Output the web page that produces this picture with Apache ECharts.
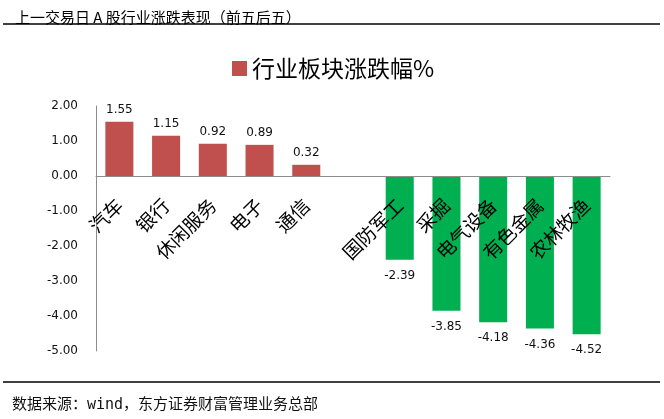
<!DOCTYPE html>
<html><head><meta charset="utf-8">
<script src="https://cdn.jsdelivr.net/npm/echarts@6/dist/echarts.min.js"></script>
<style>html,body{margin:0;padding:0;background:#fff}#c{width:664px;height:419px}</style>
</head><body><div id="c"></div>
<script>
const categories = ['汽车','银行','休闲服务','电子','通信','','国防军工','采掘','电气设备','有色金属','农林牧渔'];
const values = [1.55, 1.15, 0.92, 0.89, 0.32, null, -2.39, -3.85, -4.18, -4.36, -4.52];
const yTicks = {min: -5, max: 2, interval: 1};
const seriesName = '行业板块涨跌幅%';
const titleText = '上一交易日 A 股行业涨跌表现（前五后五）';
const sourceText = '数据来源：wind，东方证券财富管理业务总部';

const RED = '#C0504D', GREEN = '#00B050';
const GRID_TOP = 106, GRID_BOTTOM = 68, H = 419;
const gridH = H - GRID_TOP - GRID_BOTTOM;
// distance from grid bottom to the zero line, derived from the axis range
const zeroOffset = gridH * (0 - yTicks.min) / (yTicks.max - yTicks.min);

const chart = echarts.init(document.getElementById('c'), null, {renderer: 'canvas'});
const data = values.map(v => v === null ? '-' : {
  value: v,
  itemStyle: {color: v >= 0 ? RED : GREEN},
  label: {position: v >= 0 ? 'top' : 'bottom', distance: v >= 0 ? 6 : 10}
});
chart.setOption({
  animation: false,
  title: {text: titleText, left: 10, top: 5, textStyle: {fontSize: 15, fontWeight: 'normal', color: '#000', fontFamily: 'Noto Sans CJK SC'}},
  legend: {
    data: [{name: seriesName, icon: 'rect', itemStyle: {color: RED}}],
    left: 227, top: 52, itemWidth: 15, itemHeight: 15, itemGap: 7,
    textStyle: {fontSize: 23, color: '#000', fontFamily: 'Noto Sans CJK SC'}
  },
  grid: {left: 96, right: 54, top: GRID_TOP, bottom: GRID_BOTTOM, containLabel: false},
  xAxis: {
    type: 'category', data: categories, position: 'bottom', offset: -zeroOffset, z: 5,
    axisLine: {onZero: false, lineStyle: {color: '#8c8c8c', width: 1}},
    axisTick: {show: false},
    axisLabel: {rotate: 45, interval: 0, margin: 26, fontSize: 19, color: '#000', fontFamily: 'Noto Sans CJK SC'}
  },
  yAxis: {
    type: 'value', min: yTicks.min, max: yTicks.max, interval: yTicks.interval,
    axisLine: {show: true, lineStyle: {color: '#8c8c8c', width: 1}},
    axisTick: {show: false},
    splitLine: {show: false},
    axisLabel: {margin: 18, fontSize: 12, color: '#111', fontFamily: 'DejaVu Sans', formatter: v => v.toFixed(2)}
  },
  series: [{
    name: seriesName, type: 'bar', data: data, barWidth: '60%', itemStyle: {color: RED},
    label: {show: true, fontSize: 12, color: '#111', fontFamily: 'DejaVu Sans', formatter: p => p.value.toFixed(2)}
  }],
  graphic: [
    {type: 'line', shape: {x1: 3, y1: 24, x2: 660, y2: 24}, style: {stroke: '#000', lineWidth: 1.5}},
    {type: 'line', shape: {x1: 3, y1: 382, x2: 660, y2: 382}, style: {stroke: '#000', lineWidth: 1.5}},
    {type: 'text', left: 12, top: 398, style: {text: sourceText, fontSize: 15, fill: '#111', fontFamily: 'DejaVu Sans Mono, Noto Sans CJK SC'}}
  ]
});
</script></body></html>
